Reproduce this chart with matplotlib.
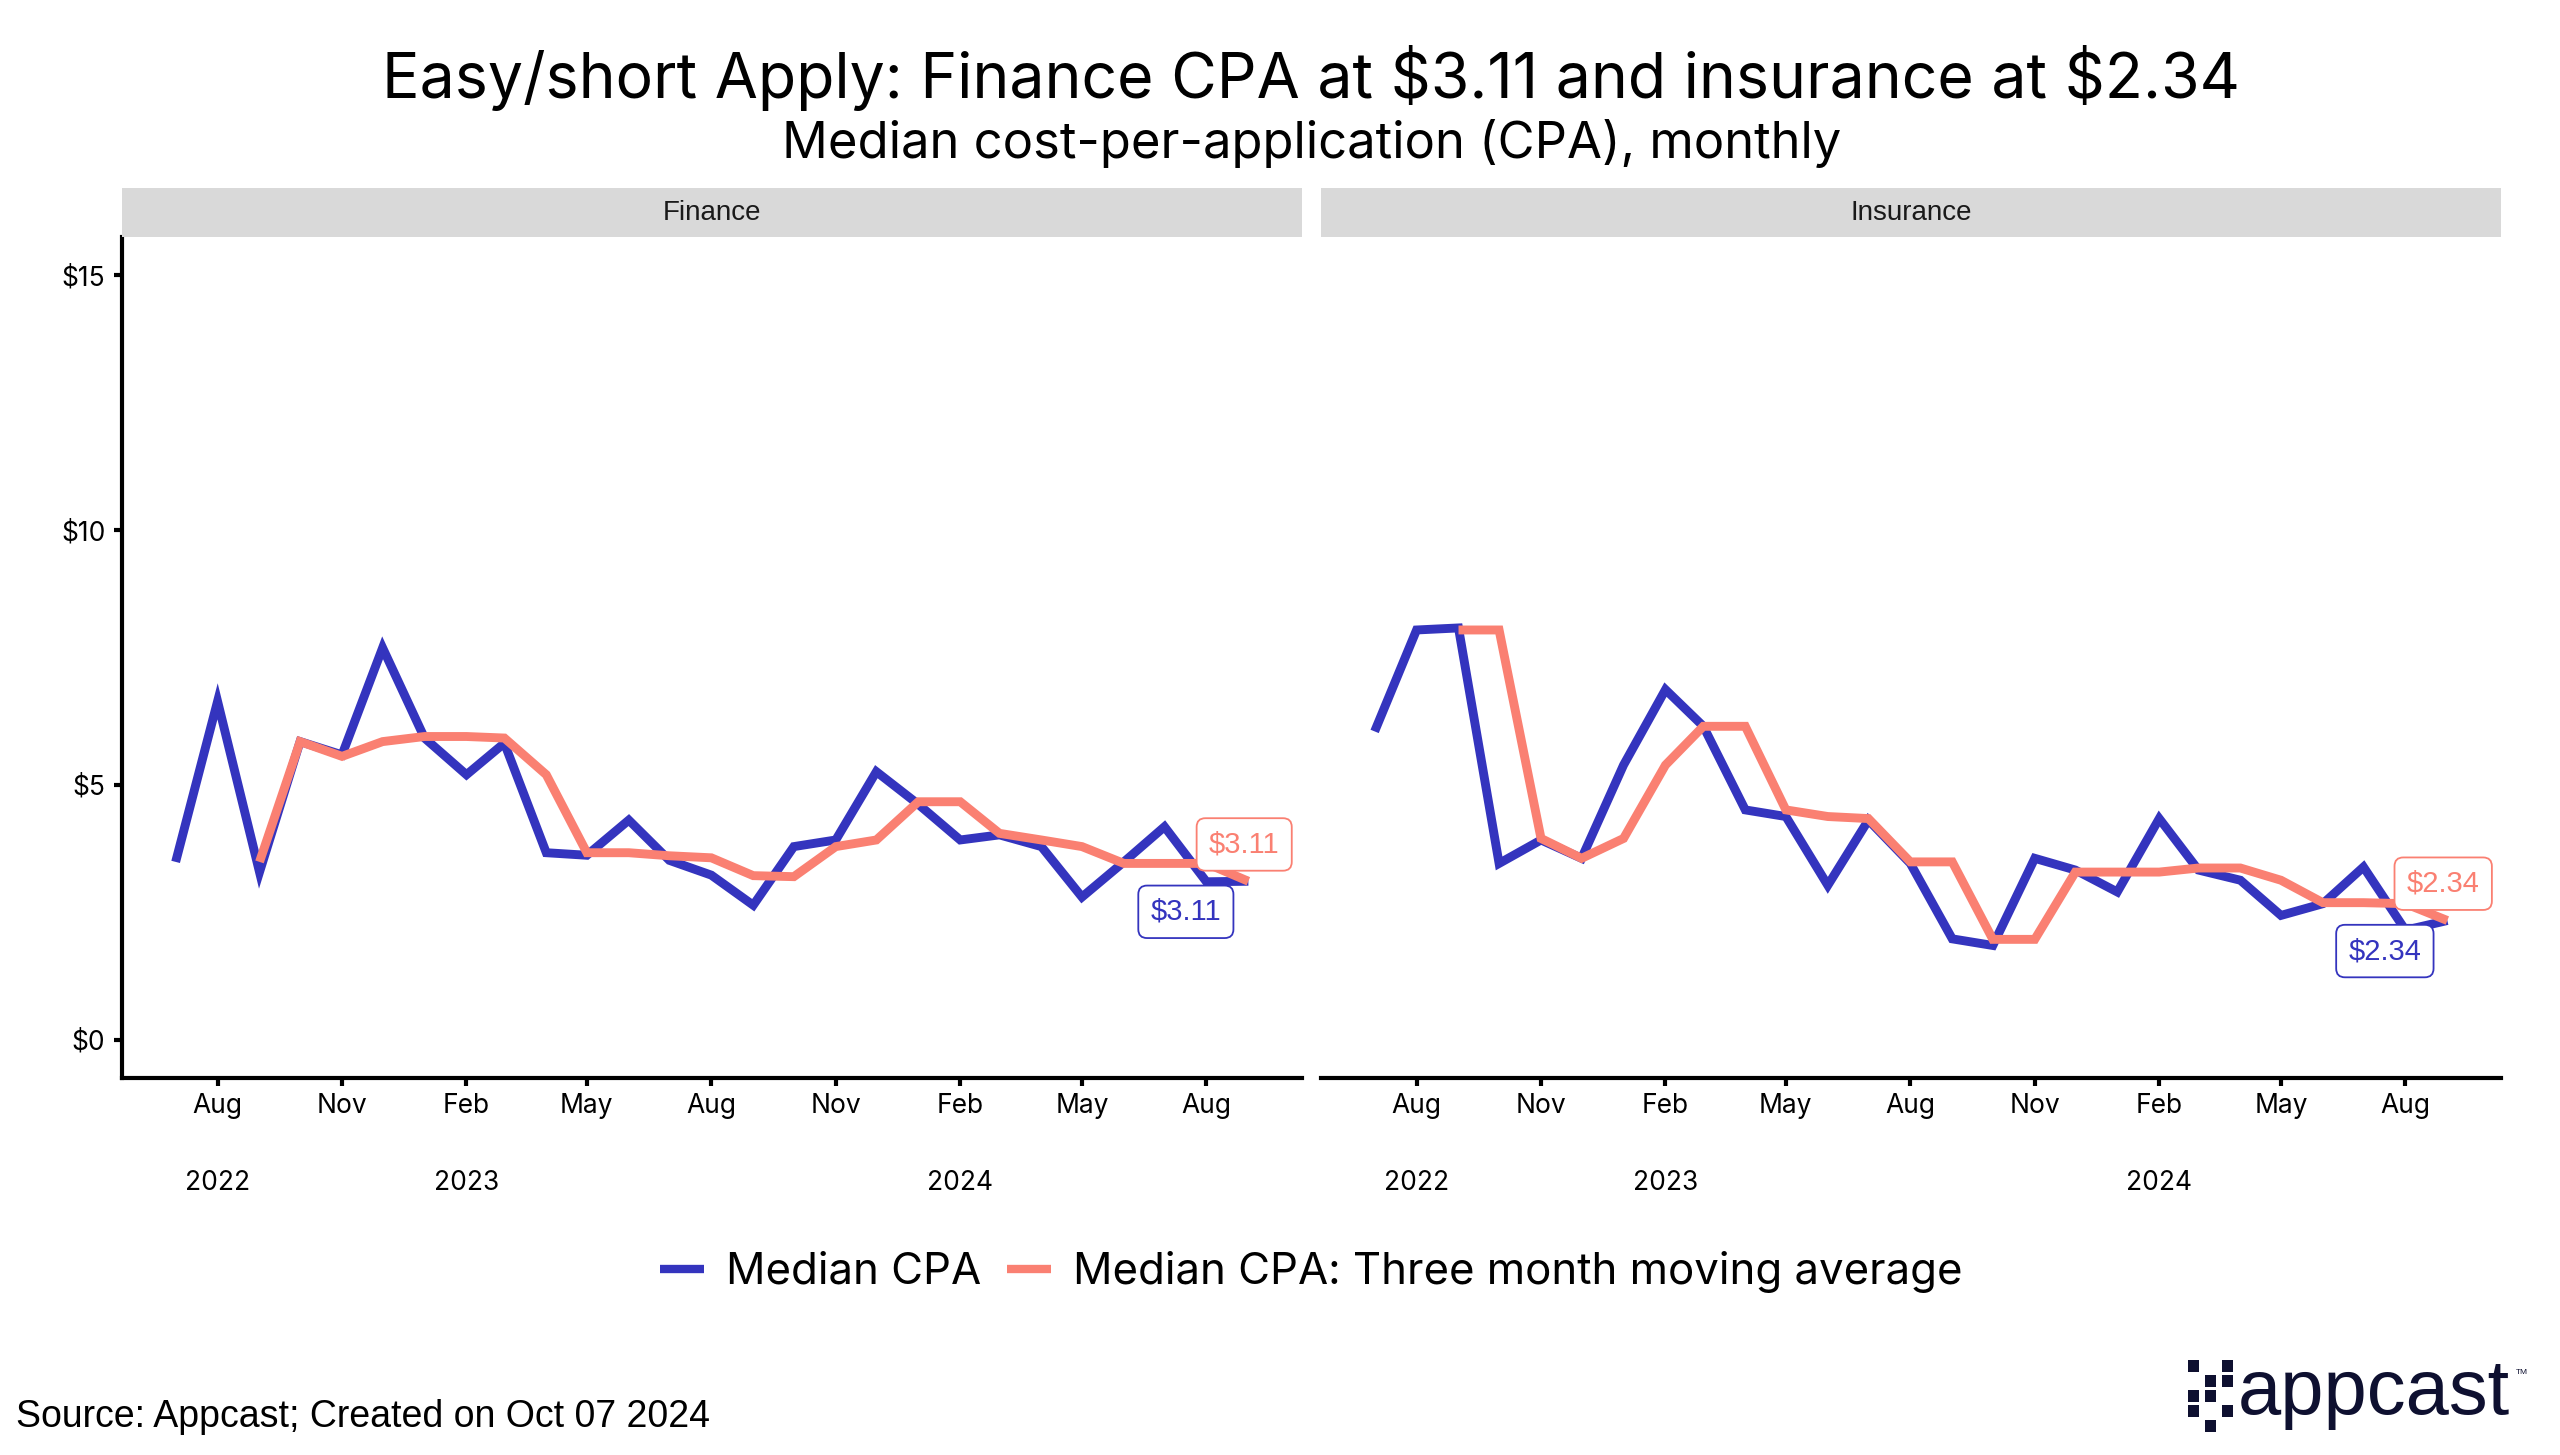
import numpy as np
import pandas as pd
import matplotlib
matplotlib.use("Agg")
import matplotlib.pyplot as plt
import matplotlib.dates as mdates
from matplotlib.lines import Line2D
from matplotlib.patches import Rectangle

# data, Jul 2022 .. Sep 2024 (monthly)
months = pd.date_range("2022-07-01", "2024-09-01", freq="MS")

fin_cpa = [3.49, 6.64, 3.29, 5.85, 5.59, 7.69, 5.92, 5.20, 5.82, 3.67, 3.62, 4.31, 3.52, 3.23,
           2.64, 3.79, 3.92, 5.26, 4.62, 3.92, 4.02, 3.79, 2.80, 3.49, 4.18, 3.10, 3.11]
fin_ma = [np.nan, np.nan, 3.49, 5.85, 5.56, 5.85, 5.95, 5.95, 5.92, 5.20, 3.67, 3.67, 3.61, 3.57,
          3.22, 3.20, 3.79, 3.92, 4.67, 4.67, 4.05, 3.92, 3.79, 3.46, 3.46, 3.46, 3.11]

ins_cpa = [6.05, 8.04, 8.08, 3.46, 3.92, 3.56, 5.39, 6.87, 6.15, 4.51, 4.38, 3.03, 4.31, 3.46,
           1.98, 1.85, 3.56, 3.33, 2.90, 4.34, 3.33, 3.13, 2.44, 2.67, 3.39, 2.15, 2.34]
ins_ma = [np.nan, np.nan, 8.04, 8.04, 3.95, 3.56, 3.95, 5.39, 6.15, 6.15, 4.51, 4.38, 4.34, 3.49,
          3.49, 1.97, 1.97, 3.29, 3.29, 3.29, 3.37, 3.37, 3.13, 2.69, 2.69, 2.67, 2.34]

panels = ["Finance", "Insurance"]
last_labels = [r"\$3.11", r"\$2.34"]

tick_dates = pd.date_range("2022-08-01", "2024-08-01", freq="3MS")
tick_labels = ["Aug\n\n2022", "Nov", "Feb\n\n2023", "May", "Aug", "Nov", "Feb\n\n2024", "May", "Aug"]

BLUE = "#3434BE"
SALMON = "#FA8072"
TITLE_FONT = ["Inter", "DejaVu Sans"]
PLAIN_FONT = ["Liberation Sans", "DejaVu Sans"]

W, H = 2560, 1455
fig = plt.figure(figsize=(W / 100, H / 100), dpi=100)

lefts = [122, 1321]
pw = 1180
top, bottom = 237, 1078
cx = (lefts[0] + lefts[1] + pw) / 2 / W   # centre of the panel area

fig.text(cx, 1 - 78 / H, r"Easy/short Apply: Finance CPA at \$3.11 and insurance at \$2.34",
         ha="center", va="center", fontsize=45, family=TITLE_FONT)
fig.text(cx, 1 - 144 / H, "Median cost-per-application (CPA), monthly",
         ha="center", va="center", fontsize=36.5, family=TITLE_FONT)

x_all = mdates.date2num(months)
pad = (x_all[-1] - x_all[0]) * 0.05

series = [(fin_cpa, fin_ma), (ins_cpa, ins_ma)]

for i, (name, (cpa, ma)) in enumerate(zip(panels, series)):
    ax = fig.add_axes([lefts[i] / W, 1 - bottom / H, pw / W, (bottom - top) / H])
    ax.plot(months, cpa, color=BLUE, lw=6.4, solid_joinstyle="miter", solid_capstyle="butt", zorder=3)
    ax.plot(months, ma, color=SALMON, lw=6.4, solid_joinstyle="miter", solid_capstyle="butt", zorder=4)

    ax.set_xlim(x_all[0] - pad, x_all[-1] + pad)
    ax.set_ylim(-0.75, 15.75)
    ax.set_xticks(tick_dates)
    ax.set_xticklabels(tick_labels, family=TITLE_FONT, fontsize=19, linespacing=1.62)

    for s in ["top", "right"]:
        ax.spines[s].set_visible(False)
    ax.spines["bottom"].set_linewidth(3)
    ax.tick_params(axis="x", length=6, width=3, pad=5)

    if i == 0:
        ax.spines["left"].set_linewidth(3)
        ax.set_yticks([0, 5, 10, 15])
        ax.set_yticklabels(["$0", "$5", "$10", "$15"], family=TITLE_FONT, fontsize=19)
        ax.tick_params(axis="y", length=6, width=3, pad=6)
    else:
        ax.spines["left"].set_visible(False)
        ax.set_yticks([])

    # end labels
    ax.annotate(last_labels[i], xy=(months[-1], cpa[-1]), xytext=(-45, -22),
                textcoords="offset points", ha="center", va="center", color=BLUE,
                fontsize=21, family=PLAIN_FONT, zorder=6,
                bbox=dict(boxstyle="round,pad=0.42,rounding_size=0.3", fc="white", ec=BLUE, lw=1.3))
    ax.annotate(last_labels[i], xy=(months[-1], ma[-1]), xytext=(-3, 26.5),
                textcoords="offset points", ha="center", va="center", color=SALMON,
                fontsize=21, family=PLAIN_FONT, zorder=6,
                bbox=dict(boxstyle="round,pad=0.42,rounding_size=0.3", fc="white", ec=SALMON, lw=1.3))

    # facet strip
    sx = fig.add_axes([lefts[i] / W, 1 - top / H, pw / W, 49 / H])
    sx.set_facecolor("#D9D9D9")
    sx.set_xticks([])
    sx.set_yticks([])
    for s in sx.spines.values():
        s.set_visible(False)
    sx.text(0.5, 0.5, name, ha="center", va="center", fontsize=20, family=PLAIN_FONT,
            color="#1a1a1a", transform=sx.transAxes)

handles = [Line2D([], [], color=BLUE, lw=6, solid_capstyle="butt"),
           Line2D([], [], color=SALMON, lw=6, solid_capstyle="butt")]
fig.legend(handles, ["Median CPA", "Median CPA: Three month moving average"],
           loc="center", bbox_to_anchor=(cx, 1 - 1272 / H), ncol=2, frameon=False,
           prop={"family": TITLE_FONT, "size": 31.5}, handlelength=1.0,
           handletextpad=0.5, columnspacing=0.6)

fig.text(16 / W, 1 - 1417 / H, "Source: Appcast; Created on Oct 07 2024", ha="left", va="center",
         fontsize=27, family=PLAIN_FONT)

# appcast logo
NAVY = "#0E1030"
sq_cols = [2188, 2205, 2222]
sq_rows = {0: [0, 2, 3], 1: [1, 2, 4], 2: [0, 1, 3]}
for c, rows in sq_rows.items():
    for r in rows:
        fig.add_artist(Rectangle((sq_cols[c] / W, 1 - (1360 + r * 15 + 12) / H), 11 / W, 12 / H,
                                 transform=fig.transFigure, color=NAVY, lw=0))
fig.text(2238 / W, 1 - 1414 / H, "appcast", ha="left", va="baseline", fontsize=56,
         family=PLAIN_FONT, color=NAVY)
fig.text(2516 / W, 1 - 1372 / H, "TM", ha="left", va="center", fontsize=6, family=PLAIN_FONT,
         color=NAVY)

fig.savefig("out.png", dpi=100, facecolor="white")
